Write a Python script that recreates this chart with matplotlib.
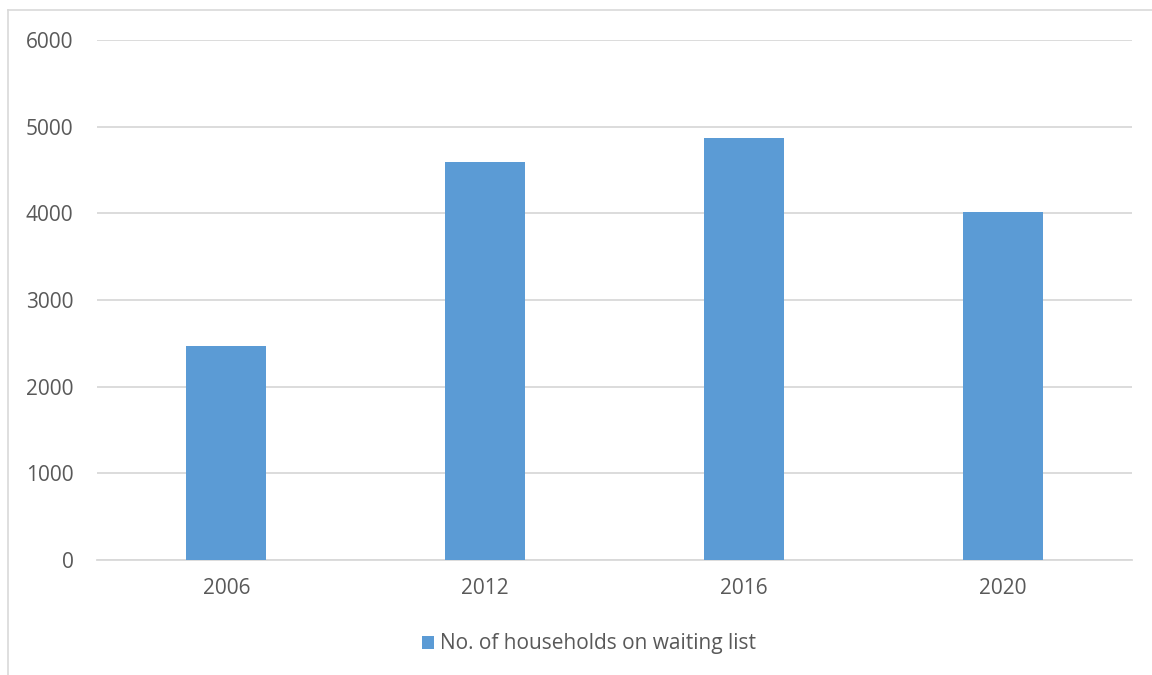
import matplotlib.pyplot as plt
from matplotlib.lines import Line2D

# data
years = ['2006', '2012', '2016', '2020']
households = [2465, 4590, 4865, 4010]
series_name = 'No. of households on waiting list'

bar_color = '#5B9BD5'
text_color = '#595959'
grid_color = '#D9D9D9'

plt.rcParams['font.family'] = ['Open Sans', 'DejaVu Sans']

fig = plt.figure(figsize=(11.52, 6.75), dpi=100)
ax = fig.add_axes([97 / 1152, 1 - 560 / 675, (1132 - 97) / 1152, (560 - 40) / 675])

x = range(len(years))
ax.bar(x, households, width=0.31, color=bar_color, label=series_name, zorder=3)

ax.set_xlim(-0.5, len(years) - 0.5)
ax.set_ylim(0, 6000)
ax.set_yticks(range(0, 6001, 1000))
ax.set_xticks(list(x))
ax.set_xticklabels(years)

ax.grid(axis='y', color=grid_color, linewidth=1.3, zorder=0)
ax.set_axisbelow(True)
for s in ['top', 'right', 'left']:
    ax.spines[s].set_visible(False)
ax.spines['bottom'].set_color(grid_color)
ax.spines['bottom'].set_linewidth(1.3)
ax.tick_params(axis='both', length=0, labelsize=15, colors=text_color)
ax.tick_params(axis='y', pad=17)
ax.tick_params(axis='x', pad=13)

leg = fig.legend(loc='center', bbox_to_anchor=(589 / 1152, 1 - 644 / 675), frameon=False,
                 fontsize=15, handlelength=0.6, handleheight=0.6, handletextpad=0.3)
for t in leg.get_texts():
    t.set_color(text_color)

# chart border (only left and top visible in the crop)
fig.add_artist(Line2D([8 / 1152, 8 / 1152], [0, 1 - 10 / 675], transform=fig.transFigure,
                      color='#D9D9D9', linewidth=1.2))
fig.add_artist(Line2D([8 / 1152, 1], [1 - 10 / 675, 1 - 10 / 675], transform=fig.transFigure,
                      color='#D9D9D9', linewidth=1.2))

fig.savefig('out.png', dpi=100)
